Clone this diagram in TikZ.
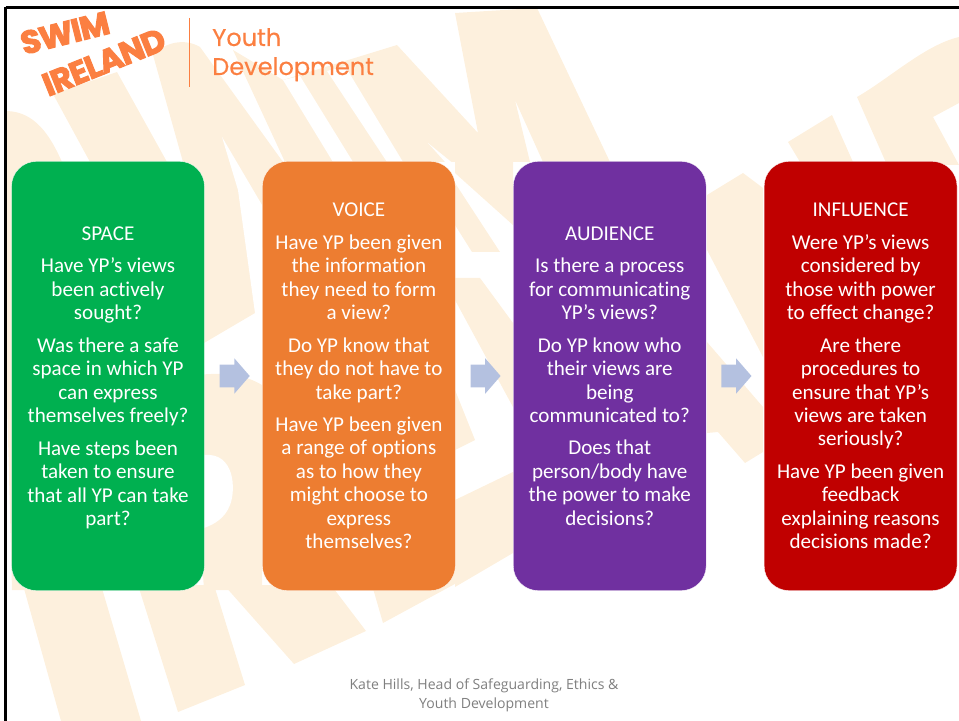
\documentclass[tikz,border=0pt]{standalone}
\usepackage{fontspec}
\setmainfont[Ligatures=NoCommon]{Carlito}
\newfontfamily\logofont[BoldFeatures={FakeBold=3,LetterSpace=-3}]{Poppins}
\newfontfamily\headfont[FakeBold=0.3]{Poppins}
\newfontfamily\footfont{Open Sans}
\usetikzlibrary{positioning}
\usetikzlibrary{shapes.arrows}

\definecolor{palewm}{HTML}{FDF0DD}
\definecolor{logoorange}{HTML}{FB7F41}
\definecolor{spacegreen}{HTML}{00B050}
\definecolor{voiceorange}{HTML}{ED7D31}
\definecolor{audiencepurple}{HTML}{7030A0}
\definecolor{influencered}{HTML}{C00000}
\definecolor{flowblue}{HTML}{B4C1E0}
\definecolor{footgrey}{HTML}{7F7F7F}

\begin{document}
\begin{tikzpicture}[x=0.025cm,y=-0.025cm,
	stage node/.style={rectangle,rounded corners=0.62cm,minimum width=4.82cm,minimum height=10.725cm,outer sep=0pt,inner sep=0pt,text=white,align=center,draw=white,line width=0.2pt,font=\fontsize{15}{16.7}\selectfont},
	flow arrow/.style={single arrow,draw=none,fill=flowblue,inner sep=0pt,minimum height=0.75cm,single arrow head extend=0.16cm,single arrow tip angle=98,xshift=-0.09cm},
	wm/.style={fill=palewm,draw=none},
	wmcut/.style={fill=white,draw=none}]

	\useasboundingbox (0,0) rectangle (959,721);

	%pale letters behind everything, top row first
	\begin{scope}
		\path[wm] (7,111) .. controls (35,112) and (50,135) .. (62,162) -- (40,590) -- (12,590) -- (7,400) -- cycle;
		\path[wm] (53,94) -- (117,72) -- (167,162) -- (90,162) -- cycle;
		\path[wm] (153,55) .. controls (165,42) and (185,38) .. (200,47) -- (283,162) -- (262,250) -- (255,313) -- (204,343) -- (183,343) -- (183,162) -- cycle;
		\path[wm] (233,50) -- (283,80) -- (397,45) -- (478,133) -- (455,13) -- (537,8) -- (610,162) -- (543,162) -- (515,100) -- (530,162) -- (285,162) -- cycle;
		\path[wm] (707,195) -- (743,173) -- (763,188) -- (763,357) -- (707,250) -- cycle;
		\path[wm] (788,142) -- (832,115) -- (853,162) -- (800,162) -- cycle;
		\path[wm] (857,97) .. controls (890,78) and (925,45) .. (959,37) -- (959,103) -- (933,117) -- (959,165) -- (887,165) -- cycle;
		\path[wmcut] (283,80) -- (300,76) -- (353,162) -- (333,162) -- cycle;
		\path[wmcut] (327,71) -- (345,66) -- (403,162) -- (387,162) -- cycle;
		\path[wmcut] (222,137) -- (262,205) -- (262,330) -- (255,313) -- (238,190) -- cycle;
		\path[wmcut] (428,143) -- (455,173) -- (513,225) -- (513,165) -- (455,165) -- cycle;
		\path[wm] (455,162) -- (513,162) -- (513,225) -- (455,173) -- cycle;
	\end{scope}

	%the middle pieces that only show in the gaps
	\begin{scope}
		\path[wm] (190,376) .. controls (225,371) and (245,375) .. (262,385) -- (262,590) -- (204,590) -- cycle;
		\path[wmcut] (204,455) .. controls (235,452) and (236,490) .. (230,505) .. controls (225,518) and (215,524) .. (204,528) -- cycle;
		\path[wm] (455,183) -- (500,252) -- (472,252) -- (455,225) -- cycle;
		\path[wm] (455,278) -- (480,278) -- (513,323) -- (513,407) -- (455,300) -- cycle;
		\path[wm] (455,390) -- (475,440) -- (455,450) -- cycle;
		\path[wm] (455,500) -- (513,472) -- (513,553) -- (455,587) -- cycle;
		\path[wm] (707,342) -- (763,407) -- (763,452) -- (745,463) -- (718,432) -- (707,433) -- cycle;
	\end{scope}

	%the strips that run out below the boxes
	\begin{scope}
		\path[wm] (23,585) -- (61,721) -- (141,721) -- (101,585) -- cycle;
		\path[wm] (138,585) -- (178,712) -- (245,685) -- (214,585) -- cycle;
		\path[wm] (224,585) -- (294,664) -- (366,631) -- (331,585) -- cycle;
		\path[wm] (372,585) -- (383,623) -- (499,560) -- (372,560) -- cycle;
	\end{scope}

	%frame on the top and left only
	\coordinate (frame top left) at (5.5,7.5);
	\coordinate (frame top right) at (959,7.5);
	\coordinate (frame bottom left) at (5.5,721);
	\draw[black,line width=2.1pt] (frame top left) -- (frame top right);
	\draw[black,line width=1.5pt] (frame top left) -- (frame bottom left);

	%logo and heading
	\node[logoorange,rotate=14,font=\logofont\bfseries\fontsize{23}{23}\selectfont,inner sep=0pt] (swim) at (65,33) {SWIM};
	\node[logoorange,rotate=22,font=\logofont\bfseries\fontsize{23}{23}\selectfont,inner sep=0pt] (ireland) at (104,62) {IRELAND};
	\coordinate (rule top) at (189.5,18);
	\coordinate (rule bottom) at (189.5,87);
	\draw[logoorange,line width=1pt] (rule top) -- (rule bottom);
	\node[logoorange,anchor=base west,inner sep=0pt,font=\headfont\fontsize{17.1}{17.1}\selectfont] (youth) at (212,46) {Youth};
	\node[logoorange,anchor=base west,inner sep=0pt,font=\headfont\fontsize{17.1}{17.1}\selectfont] (development) at (212,75) {Development};

	%the four stages
	\begin{scope}
		\node[stage node,fill=spacegreen] (space) at (108,376) {SPACE\\[6.4pt]
			Have YP’s views\\been actively\\sought?\\[6.4pt]
			Was there a safe\\space in which YP\\can express\\themselves freely?\\[6.4pt]
			Have steps been\\taken to ensure\\that all YP can take\\\smash{part?}};
		\node[stage node,fill=voiceorange] (voice) [right=1.45cm of space] {VOICE\\[6.4pt]
			Have YP been given\\the information\\they need to form\\a view?\\[6.4pt]
			Do YP know that\\they do not have to\\take part?\\[6.4pt]
			Have YP been given\\a range of options\\as to how they\\might choose to\\express\\themselves?};
		\node[stage node,fill=audiencepurple] (audience) [right=1.45cm of voice] {AUDIENCE\\[6.4pt]
			Is there a process\\for communicating\\YP’s views?\\[6.4pt]
			Do YP know who\\their views are\\being\\communicated to?\\[6.4pt]
			Does that\\person/body have\\the power to make\\decisions?};
		\node[stage node,fill=influencered] (influence) [right=1.45cm of audience] {INFLUENCE\\[6.4pt]
			Were YP’s views\\considered by\\those with power\\to effect change?\\[6.4pt]
			Are there\\procedures to\\ensure that YP’s\\views are taken\\seriously?\\[6.4pt]
			Have YP been given\\feedback\\explaining reasons\\decisions made?};

		\path (space) -- node[flow arrow] (arrow1) {\rule{0pt}{0.55cm}} (voice);
		\path (voice) -- node[flow arrow] (arrow2) {\rule{0pt}{0.55cm}} (audience);
		\path (audience) -- node[flow arrow] (arrow3) {\rule{0pt}{0.55cm}} (influence);
	\end{scope}

	\node[footgrey,align=center,inner sep=0pt,font=\footfont\fontsize{10}{13.5}\selectfont] (credit) at (484,695.5) {Kate Hills, Head of Safeguarding, Ethics \&\\Youth Development};
\end{tikzpicture}
\end{document}
